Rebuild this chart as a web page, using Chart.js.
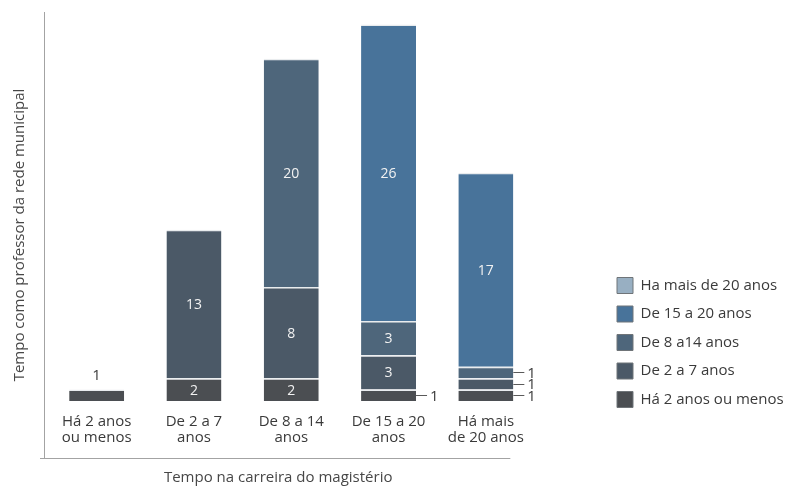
<!DOCTYPE html>
<html>
<head>
<meta charset="utf-8">
<script src="https://cdn.jsdelivr.net/npm/chart.js@4/dist/chart.umd.min.js"></script>
<style>
  html, body { margin: 0; padding: 0; background: #ffffff; }
  canvas { display: block; }
</style>
</head>
<body>
<canvas id="c" width="790" height="489"></canvas>
<script>
// Categories: time in the teaching career
const categories = [
  ["Há 2 anos", "ou menos"],
  ["De 2 a 7", "anos"],
  ["De 8 a 14", "anos"],
  ["De 15 a 20", "anos"],
  ["Há mais", "de 20 anos"]
];

// Series: time as a municipal-network teacher (bottom to top of each stack)
const seriesNames = [
  "Há 2 anos ou menos",
  "De 2 a 7 anos",
  "De 8 a14 anos",
  "De 15 a 20 anos",
  "Ha mais de 20 anos"
];
const ate2Anos   = [1, 2, 2, 1, 1];
const de2a7      = [null, 13, 8, 3, 1];
const de8a14     = [null, null, 20, 3, 1];
const de15a20    = [null, null, null, 26, 17];
const mais20     = [null, null, null, null, null];
const seriesColors = ["#4b4e52", "#4b5967", "#4e667b", "#48739a", "#98afc2"];

const yTitle = "Tempo como professor da rede municipal";
const xTitle = "Tempo na carreira do magistério";
const FONT = "'Open Sans', 'DejaVu Sans', sans-serif";

const seriesValues = [ate2Anos, de2a7, de8a14, de15a20, mais20];

const datasets = seriesNames.map((name, i) => ({
  label: name,
  data: seriesValues[i],
  backgroundColor: seriesColors[i],
  borderColor: "#e9ecee",
  borderWidth: { top: 1.5, left: 0, right: 0, bottom: 0 },
  borderSkipped: "start",
  barPercentage: 0.565,
  categoryPercentage: 1.0
}));

// Frame lines, axis titles and value labels
const decorations = {
  id: "decorations",
  afterDatasetsDraw(chart) {
    const { ctx, chartArea } = chart;
    const frameLeft = chartArea.left - 4;
    const frameTop = chartArea.top - 1;
    const frameBottom = chartArea.bottom + 57;
    const meta0 = chart.getDatasetMeta(0);
    const lastBar = meta0.data[meta0.data.length - 1];
    const frameRight = lastBar.x + lastBar.width / 2 - 3;

    ctx.save();
    ctx.strokeStyle = "#a3a3a3";
    ctx.lineWidth = 1;
    ctx.beginPath();
    ctx.moveTo(frameLeft + 0.5, frameTop);
    ctx.lineTo(frameLeft + 0.5, frameBottom + 0.5);
    ctx.moveTo(frameLeft - 4, frameBottom + 0.5);
    ctx.lineTo(frameRight, frameBottom + 0.5);
    ctx.stroke();

    // axis titles
    ctx.fillStyle = "#474747";
    ctx.font = "15px " + FONT;
    ctx.textAlign = "center";
    ctx.textBaseline = "middle";
    ctx.fillText(xTitle, (frameLeft - 4 + frameRight) / 2 + 3, frameBottom + 20);
    ctx.save();
    ctx.translate(frameLeft - 24, (frameTop + frameBottom) / 2);
    ctx.rotate(-Math.PI / 2);
    ctx.fillText(yTitle, 0, 0);
    ctx.restore();

    // value labels
    chart.data.datasets.forEach((ds, di) => {
      const meta = chart.getDatasetMeta(di);
      meta.data.forEach((el, i) => {
        const v = ds.data[i];
        if (v === null || v === undefined) return;
        const top = Math.min(el.y, el.base);
        const bottom = Math.max(el.y, el.base);
        const mid = (top + bottom) / 2;
        if (v >= 2) {
          ctx.fillStyle = "#f2f2f2";
          ctx.font = "14px " + FONT;
          ctx.textAlign = "center";
          ctx.fillText(String(v), el.x, mid + 1);
        } else {
          const stackTotal = chart.data.datasets.reduce((s, d) => s + (d.data[i] || 0), 0);
          ctx.fillStyle = "#3a3a3a";
          ctx.font = "15px " + FONT;
          if (stackTotal === v) {
            ctx.textAlign = "center";
            ctx.fillText(String(v), el.x, top - 14);
          } else {
            const right = el.x + el.width / 2;
            ctx.strokeStyle = "#5a5a5a";
            ctx.beginPath();
            ctx.moveTo(right, Math.round(mid) + 0.5);
            ctx.lineTo(right + 11, Math.round(mid) + 0.5);
            ctx.stroke();
            ctx.textAlign = "left";
            ctx.fillText(String(v), right + 14, mid + 1);
          }
        }
      });
    });
    ctx.restore();
  }
};

new Chart(document.getElementById("c"), {
  type: "bar",
  data: { labels: categories, datasets },
  options: {
    responsive: false,
    animation: false,
    layout: { padding: { top: 13, right: 0, bottom: 0, left: 48 } },
    scales: {
      x: {
        stacked: true,
        grid: { display: false },
        border: { display: false },
        ticks: {
          color: "#3a3a3a",
          font: { family: FONT, size: 15, lineHeight: 1.1 },
          padding: 4,
          maxRotation: 0,
          autoSkip: false
        },
        afterFit(scale) { scale.height = 88; }
      },
      y: {
        stacked: true,
        position: "right",
        min: 0,
        max: 34,
        grid: { display: false },
        border: { display: false },
        ticks: { display: false },
        afterFit(scale) { scale.width = 70; }
      }
    },
    plugins: {
      tooltip: { enabled: false },
      legend: {
        position: "right",
        align: "start",
        fullSize: true,
        reverse: true,
        title: {
          display: true,
          text: " ",
          font: { family: FONT, size: 15, lineHeight: 1.2 },
          padding: { top: 0, bottom: 234 }
        },
        labels: {
          color: "#3a3a3a",
          font: { family: FONT, size: 15 },
          boxWidth: 16,
          boxHeight: 16,
          padding: 12.5,
          generateLabels(chart) {
            const items = Chart.defaults.plugins.legend.labels.generateLabels(chart);
            items.forEach(it => { it.strokeStyle = "#6f7478"; it.lineWidth = 1; });
            return items;
          }
        }
      }
    }
  },
  plugins: [decorations]
});
</script>
</body>
</html>
